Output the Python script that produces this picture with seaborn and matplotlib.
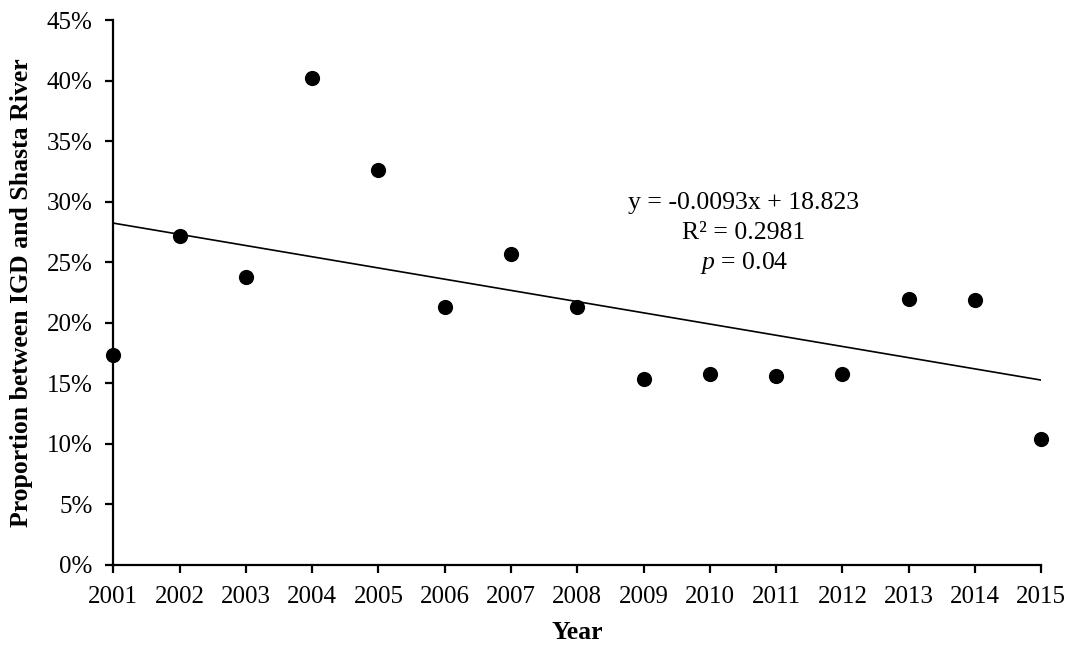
import numpy as np
import pandas as pd
import matplotlib
matplotlib.use("Agg")
import matplotlib.pyplot as plt
from matplotlib.ticker import PercentFormatter, MultipleLocator
import seaborn as sns

# Proportion of fish passing between IGD and the Shasta River, by year
years = [2001, 2002, 2003, 2004, 2005, 2006, 2007, 2008,
         2009, 2010, 2011, 2012, 2013, 2014, 2015]
proportion = [0.1734, 0.2717, 0.2376, 0.4024, 0.3262, 0.2128, 0.2565, 0.2133,
              0.1539, 0.1578, 0.1563, 0.1577, 0.2197, 0.2186, 0.1043]
year_ticks = list(range(2001, 2016))

fit_lines = ["y = -0.0093x + 18.823", "R² = 0.2981", r"$p$ = 0.04"]

df = pd.DataFrame({"Year": years, "Proportion": proportion})

sns.set_style("ticks")
plt.rcParams["font.family"] = ["Liberation Serif", "DejaVu Serif"]
plt.rcParams["mathtext.fontset"] = "custom"
plt.rcParams["mathtext.rm"] = "Liberation Serif"
plt.rcParams["mathtext.it"] = "Liberation Serif:italic"

FS = 18.5

fig = plt.figure(figsize=(10.72, 6.46), dpi=100)
ax = fig.add_axes([0.1057, 0.1254, 0.8657, 0.8436])

sns.regplot(data=df, x="Year", y="Proportion", ax=ax, ci=None, truncate=True,
            scatter_kws=dict(s=120, color="black", alpha=1, linewidths=0,
                             clip_on=False, zorder=3),
            line_kws=dict(color="black", lw=1.2, zorder=2))

ax.set_xlim(2001, 2015)
ax.set_ylim(0, 0.45)
ax.set_xticks(year_ticks)
ax.set_xticklabels([str(y) for y in year_ticks])
ax.yaxis.set_major_locator(MultipleLocator(0.05))
ax.yaxis.set_major_formatter(PercentFormatter(1.0, decimals=0))

for side in ("top", "right"):
    ax.spines[side].set_visible(False)
for side in ("left", "bottom"):
    ax.spines[side].set_color("black")
    ax.spines[side].set_linewidth(1.6)

ax.tick_params(axis="both", which="major", direction="out", length=6, width=1.6,
               color="black", labelsize=18, labelcolor="black")
ax.tick_params(axis="y", pad=9)
ax.tick_params(axis="x", pad=9)

ax.set_xlabel("Year", fontsize=FS, fontweight="bold", color="black")
ax.set_ylabel("Proportion between IGD and Shasta River", fontsize=FS,
              fontweight="bold", color="black")
ax.yaxis.set_label_coords(-0.087, 0.5)
ax.xaxis.set_label_coords(0.5, -0.102)

for i, line in enumerate(fit_lines):
    ax.text(0.6795, 0.664 - i * 0.055, line, transform=ax.transAxes,
            ha="center", va="center", fontsize=FS, color="black")

fig.savefig("out.png", dpi=100, facecolor="white")
